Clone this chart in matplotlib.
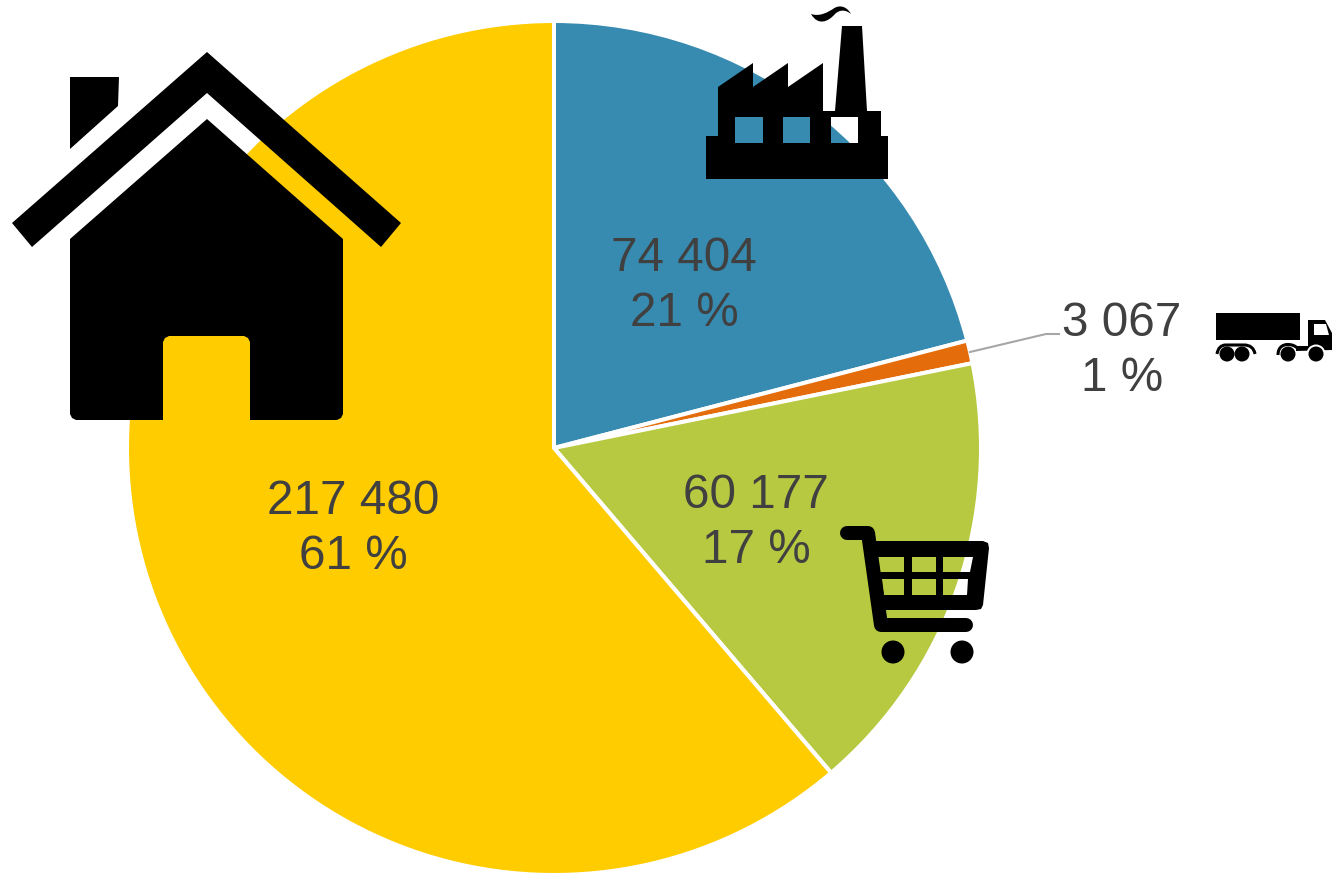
import matplotlib
matplotlib.use("Agg")
import numpy as np
import matplotlib.pyplot as plt
from matplotlib.path import Path
from matplotlib.patches import PathPatch, Circle

plt.rcParams['font.family'] = ['Liberation Sans', 'DejaVu Sans']

# clockwise from 12 o'clock: industry, transport, services, housing
sectors = ["industry", "transport", "services", "housing"]
values = [74404, 3067, 60177, 217480]
colors = ["#378bb0", "#e46c0a", "#b7c940", "#ffcc00"]

W, H = 1334, 873
cx, cy, R = 554, 448, 427
label_pos = [(684, 286), (1122, 351), (756, 523), (353, 529)]


def ring(pts, ccw):
    pts = np.array(pts, dtype=float)
    x, y = pts[:, 0], pts[:, 1]
    area = np.sum(x * np.roll(y, -1) - np.roll(x, -1) * y)
    if (area > 0) != ccw:
        pts = pts[::-1]
    return pts


def shape(ax, outer, holes=(), **kw):
    # black silhouette, holes let the pie show through
    verts, codes = [], []
    for i, pts in enumerate([outer] + list(holes)):
        p = ring(pts, i == 0)
        verts += list(p) + [p[0]]
        codes += [Path.MOVETO] + [Path.LINETO] * (len(p) - 1) + [Path.CLOSEPOLY]
    ax.add_patch(PathPatch(Path(verts, codes), fc='black', ec='none', zorder=5, **kw))


def line(ax, pts, lw):
    pts = np.array(pts)
    ax.plot(pts[:, 0], pts[:, 1], color='black', lw=lw * 0.72, solid_capstyle='round',
            solid_joinstyle='round', zorder=5)


fig = plt.figure(figsize=(W / 100, H / 100), dpi=100)

ax = fig.add_axes([(cx - R) / W, (H - cy - R) / H, 2 * R / W, 2 * R / H])
ax.pie(values, colors=colors, startangle=90, counterclock=False, radius=1,
       wedgeprops={'edgecolor': 'white', 'linewidth': 2.9})
ax.set_xlim(-1, 1)
ax.set_ylim(-1, 1)

# overlay in pixel coordinates for labels and pictograms
top = fig.add_axes([0, 0, 1, 1])
top.set_xlim(0, W)
top.set_ylim(H, 0)
top.axis('off')
top.patch.set_alpha(0)

total = sum(values)
for v, (x, y) in zip(values, label_pos):
    txt = f"{v:,}".replace(",", " ") + "\n" + f"{v / total * 100:.0f} %"
    top.text(x, y, txt, ha='center', va='center', fontsize=34.3, color='#404040',
             linespacing=1.27, zorder=4)

# leader line to the transport label
top.plot([970, 1046, 1059], [352, 334, 334], color='#a6a6a6', lw=1.5, zorder=3)

# house
shape(top, [(207, 52), (401, 223), (381, 247), (207, 93), (32, 247), (12, 223)])
shape(top, [(70, 77), (119, 77), (118, 106), (70, 149)])
shape(top, [(207, 119), (343, 239), (343, 414), (341, 418), (337, 420), (250, 420),
            (250, 342), (248, 338), (244, 336), (169, 336), (165, 338), (163, 342),
            (163, 420), (76, 420), (72, 418), (70, 414), (70, 239)])

# factory
windows = [[(735, 117), (763, 117), (763, 143), (735, 143)],
           [(783, 117), (810, 117), (810, 143), (783, 143)],
           [(831, 117), (858, 117), (858, 143), (831, 143)]]
shape(top, [(706, 179), (706, 136), (718, 136), (718, 87), (753, 63), (753, 87), (788, 63),
            (788, 87), (823, 63), (823, 111), (835, 111), (842, 26), (862, 26), (867, 111),
            (881, 111), (881, 136), (888, 136), (888, 179)], windows)
smoke = Path([(811, 14), (820, 17), (828, 12), (833, 9), (838, 5), (846, 5), (851, 14),
              (845, 9), (839, 10), (835, 14), (828, 22), (818, 26), (811, 14), (811, 14)],
             [Path.MOVETO] + [Path.CURVE4] * 12 + [Path.CLOSEPOLY])
top.add_patch(PathPatch(smoke, fc='black', ec='none', zorder=5))

# truck
shape(top, [(1216, 313), (1300, 313), (1300, 340), (1216, 340)])
shape(top, [(1308, 320), (1325, 320), (1332, 333), (1332, 350), (1296, 351), (1296, 346),
            (1308, 346)],
      [[(1314, 324), (1326, 324), (1329, 335), (1314, 335)]])
top.add_patch(Circle((1316, 354), 9.5, fc='white', ec='none', zorder=5))
rear_fender = Path([(1217, 354), (1218, 348), (1221, 345), (1226, 345), (1244, 345),
                    (1250, 345), (1254, 348), (1255, 354)],
                   [Path.MOVETO] + [Path.CURVE4] * 3 + [Path.LINETO] + [Path.CURVE4] * 3)
top.add_patch(PathPatch(rear_fender, fc='none', ec='black', lw=2.2, zorder=5))
front_fender = Path([(1278, 355), (1278, 348), (1282, 344.5), (1288, 344.5), (1292, 344.5),
                     (1296, 346), (1298, 349)],
                    [Path.MOVETO] + [Path.CURVE4] * 6)
top.add_patch(PathPatch(front_fender, fc='none', ec='black', lw=2.2, zorder=6))
for wx in [1227, 1242, 1288, 1316]:
    top.add_patch(Circle((wx, 354), 7.5, fc='black', ec='none', zorder=6))

# shopping cart
holes = [[(878, 557), (904, 557), (904, 572), (880, 572)],
         [(912, 557), (936, 557), (936, 572), (912, 572)],
         [(943, 557), (973, 557), (970, 572), (943, 572)],
         [(882, 579), (904, 579), (904, 595), (884, 595)],
         [(912, 579), (936, 579), (936, 595), (912, 595)],
         [(943, 579), (968, 579), (967, 595), (943, 595)]]
shape(top, [(872, 541), (983, 541), (988, 543), (989, 548), (983, 605), (981, 609), (976, 610),
            (884, 610)], holes)
line(top, [(847, 533), (868, 533), (881, 625), (966, 625)], 14)
top.add_patch(Circle((893, 652), 11.5, fc='black', ec='none', zorder=5))
top.add_patch(Circle((962, 652), 11.5, fc='black', ec='none', zorder=5))

fig.savefig('out.png', dpi=100)
